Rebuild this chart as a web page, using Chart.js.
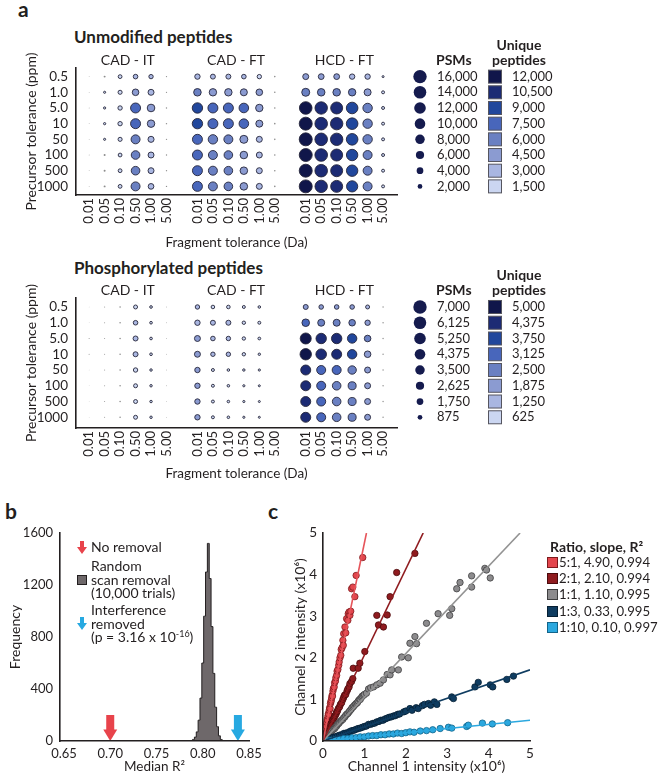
<!DOCTYPE html>
<html>
<head>
<meta charset="utf-8">
<title>Search tolerance and interference removal</title>
<script src="https://cdn.jsdelivr.net/npm/chart.js"></script>
<style>
  body { margin: 0; width: 662px; height: 782px; position: relative; overflow: hidden; background: #fff; font-family: Lato, sans-serif; color: #231f20; }
  .t { position: absolute; white-space: nowrap; line-height: 1; }
  .panel { font-weight: bold; font-size: 21px; }
  .head { font-weight: bold; font-size: 17px; }
  .leg { position: absolute; font-size: 14px; line-height: 13.5px; white-space: nowrap; }
  canvas, svg { position: absolute; }
</style>
</head>
<body>
<div class="t panel" style="left:18px;top:-2px">a</div>
<div class="t head" style="left:74px;top:28px">Unmodified peptides</div>
<div class="t head" style="left:74px;top:259px">Phosphorylated peptides</div>
<div class="t panel" style="left:5px;top:500px">b</div>
<div class="t panel" style="left:268px;top:500px">c</div>

<canvas id="unmod" width="662" height="235" style="left:0;top:20px"></canvas>
<canvas id="phos" width="662" height="236" style="left:0;top:250px"></canvas>
<canvas id="hist" width="290" height="279" style="left:0;top:500px"></canvas>
<canvas id="ratio" width="382" height="279" style="left:280px;top:500px"></canvas>

<!-- legend of panel b -->
<svg style="left:77px;top:541px" width="10" height="13"><path d="M3 0h4v6h3l-5 7l-5-7h3z" fill="#e8434b"/></svg>
<div class="leg" style="left:91px;top:539.5px">No removal</div>
<svg style="left:77px;top:575px" width="10" height="10"><rect x="0.5" y="0.5" width="9" height="9" fill="#6e686a" stroke="#231f20"/></svg>
<div class="leg" style="left:91px;top:559px">Random<br>scan removal<br>(10,000 trials)</div>
<svg style="left:77px;top:617px" width="10" height="13"><path d="M3 0h4v6h3l-5 7l-5-7h3z" fill="#27a9e1"/></svg>
<div class="leg" style="left:91px;top:603px">Interference<br>removed<br>(p = 3.16 x 10<span style="font-size:9px;vertical-align:5px;line-height:0">-16</span>)</div>

<!-- legend of panel c -->
<div class="t" style="left:550px;top:540px;font-weight:bold;font-size:14px">Ratio, slope, R²</div>
<div id="ratioLegend"></div>

<script>
// ---------- panel a data ----------
const precursorLabels = ['0.5', '1.0', '5.0', '10', '50', '100', '500', '1000'];
const fragmentLabels = ['0.01', '0.05', '0.10', '0.50', '1.00', '5.00'];
const groupNames = ['CAD - IT', 'CAD - FT', 'HCD - FT'];

const unmodPsmLevels = [16000, 14000, 12000, 10000, 8000, 6000, 4000, 2000];
const unmodPepLevels = [12000, 10500, 9000, 7500, 6000, 4500, 3000, 1500];
const phosPsmLevels = [7000, 6125, 5250, 4375, 3500, 2625, 1750, 875];
const phosPepLevels = [5000, 4375, 3750, 3125, 2500, 1875, 1250, 625];
const pepPalette = ['#10164a', '#1c2b74', '#21479c', '#4866bb', '#6a80c2', '#8b9bd1', '#a9b6e1', '#cbd6f1'];

// rows: precursor tolerance, columns: fragment tolerance
const unmodCadItPsm = [
  [60, 350, 1300, 1900, 1700, 150],
  [60, 400, 1500, 3900, 3200, 150],
  [60, 450, 1700, 8900, 5200, 180],
  [60, 450, 1700, 8900, 5000, 180],
  [60, 400, 1500, 7200, 3300, 160],
  [60, 350, 1300, 6600, 3200, 160],
  [60, 350, 1300, 6600, 3200, 160],
  [60, 350, 1300, 7200, 2900, 160]];
const unmodCadItPep = [
  [50, 300, 1100, 1700, 1600, 120],
  [50, 350, 1300, 3500, 2800, 120],
  [50, 380, 1400, 7000, 4200, 150],
  [50, 380, 1400, 7200, 4000, 150],
  [50, 350, 1300, 5800, 2900, 130],
  [50, 300, 1100, 5600, 2800, 130],
  [50, 300, 1100, 5600, 2800, 130],
  [50, 300, 1100, 5900, 2600, 130]];
const unmodCadFtPsm = [
  [2600, 2200, 2200, 1900, 1700, 230],
  [5100, 4900, 4900, 4400, 3900, 230],
  [9600, 8900, 8900, 8200, 4900, 230],
  [9600, 8900, 8900, 8200, 4400, 230],
  [8900, 7900, 7200, 5700, 3200, 230],
  [8900, 7200, 6600, 5100, 3200, 230],
  [8900, 7200, 6600, 5100, 3200, 230],
  [8900, 7200, 6600, 5100, 3200, 230]];
const unmodCadFtPep = [
  [2200, 1900, 1900, 1600, 1400, 200],
  [4600, 4000, 4000, 3600, 3200, 200],
  [8200, 7200, 7000, 6400, 4100, 200],
  [8200, 7100, 7000, 6400, 3800, 200],
  [7400, 5800, 5400, 4400, 2700, 200],
  [7400, 5800, 5400, 4200, 2700, 200],
  [7400, 5800, 5400, 4200, 2700, 200],
  [7400, 5800, 5400, 4200, 2700, 200]];
const unmodHcdFtPsm = [
  [3200, 3000, 3000, 2600, 2600, 360],
  [5700, 5100, 5100, 4900, 4400, 800],
  [14100, 13700, 12800, 12000, 7900, 800],
  [15000, 14100, 13700, 12000, 7900, 800],
  [15000, 14100, 13700, 12000, 7900, 800],
  [15000, 14100, 12800, 11600, 7200, 800],
  [15000, 14100, 12800, 11600, 7200, 800],
  [15000, 13700, 12800, 11200, 7200, 800]];
const unmodHcdFtPep = [
  [3100, 3050, 3050, 3000, 2900, 300],
  [5000, 4700, 4600, 4550, 4000, 600],
  [11200, 10200, 10000, 8800, 5900, 600],
  [11800, 10300, 10100, 8800, 5800, 600],
  [11700, 10200, 10000, 8700, 5800, 600],
  [11600, 10100, 9800, 8600, 5700, 600],
  [11800, 10200, 9800, 8600, 5700, 600],
  [11400, 10100, 9700, 8500, 5600, 600]];

const phosCadItPsm = [
  [10, 40, 100, 620, 280, 25],
  [10, 40, 100, 830, 280, 25],
  [40, 40, 100, 975, 280, 25],
  [40, 40, 100, 975, 280, 25],
  [10, 40, 100, 750, 240, 25],
  [10, 40, 100, 620, 240, 25],
  [10, 40, 100, 620, 240, 25],
  [10, 40, 100, 620, 240, 25]];
const phosCadItPep = [
  [8, 30, 80, 560, 200, 20],
  [8, 30, 80, 700, 200, 20],
  [30, 30, 80, 800, 200, 20],
  [30, 30, 80, 780, 200, 20],
  [8, 30, 80, 600, 180, 20],
  [8, 30, 80, 540, 180, 20],
  [8, 30, 80, 540, 180, 20],
  [8, 30, 80, 540, 180, 20]];
const phosCadFtPsm = [
  [760, 500, 500, 350, 260, 0],
  [1140, 975, 975, 450, 350, 0],
  [1400, 825, 760, 450, 300, 0],
  [1400, 760, 760, 450, 230, 0],
  [1140, 350, 260, 230, 190, 0],
  [1140, 350, 260, 190, 160, 0],
  [1140, 350, 260, 190, 160, 0],
  [1140, 350, 260, 190, 160, 0]];
const phosCadFtPep = [
  [700, 450, 450, 300, 230, 0],
  [1100, 880, 880, 400, 300, 0],
  [1300, 740, 680, 400, 270, 0],
  [1300, 680, 680, 400, 200, 0],
  [1300, 300, 230, 200, 170, 0],
  [1300, 300, 230, 170, 140, 0],
  [1300, 300, 230, 170, 140, 0],
  [1300, 300, 230, 170, 140, 0]];
const phosHcdFtPsm = [
  [975, 825, 825, 825, 625, 76],
  [2250, 1910, 1910, 1700, 1140, 76],
  [4720, 4220, 4220, 3450, 1700, 76],
  [5070, 4380, 3900, 3450, 1700, 76],
  [3900, 3160, 3160, 2750, 1400, 76],
  [3900, 3160, 2880, 2500, 1400, 76],
  [3900, 3160, 2880, 2500, 1400, 76],
  [3900, 3160, 2880, 2500, 1400, 76]];
const phosHcdFtPep = [
  [1400, 1350, 1300, 1300, 900, 60],
  [2900, 2400, 2400, 2300, 1500, 60],
  [4600, 4200, 4000, 3400, 2200, 60],
  [4800, 4300, 3800, 3200, 1800, 60],
  [4200, 3000, 2800, 2400, 1700, 60],
  [4100, 3000, 2500, 2300, 1600, 60],
  [4000, 3000, 2450, 2300, 1600, 60],
  [4000, 2900, 2450, 2300, 1600, 60]];

// ---------- panel b data ----------
const histBins = [0.786, 0.788, 0.790, 0.792, 0.794, 0.796, 0.798, 0.800, 0.802, 0.804,
                  0.806, 0.808, 0.810, 0.812, 0.814, 0.816, 0.818, 0.820, 0.822, 0.824];
const histCounts = [0, 4, 12, 30, 70, 160, 330, 600, 960, 1300,
                    1520, 1250, 880, 520, 260, 110, 40, 12, 3, 0];
const rTicks = [0.65, 0.70, 0.75, 0.80, 0.85];
const arrowValues = [0.70, 0.838];
const arrowColors = ['#e8434b', '#27a9e1'];

// ---------- panel c data ----------
const ratioLabels = ['5:1, 4.90, 0.994', '2:1, 2.10, 0.994', '1:1, 1.10, 0.995', '1:3, 0.33, 0.995', '1:10, 0.10, 0.997'];
const ratio5to1 = [[0.02,0.06],[0.03,0.16],[0.04,0.22],[0.05,0.21],[0.06,0.3],[0.07,0.38],[0.08,0.36],[0.09,0.45],[0.1,0.52],[0.11,0.5],[0.12,0.6],[0.13,0.66],[0.14,0.64],[0.15,0.74],[0.16,0.8],[0.17,0.78],[0.18,0.9],[0.19,0.94],[0.2,0.98],[0.21,1.04],[0.22,1.1],[0.23,1.08],[0.24,1.2],[0.25,1.26],[0.27,1.3],[0.28,1.4],[0.3,1.44],[0.31,1.52],[0.33,1.58],[0.34,1.68],[0.36,1.72],[0.38,1.82],[0.39,1.9],[0.41,2.0],[0.43,2.06],[0.44,2.2],[0.46,2.24],[0.48,2.42],[0.49,2.3],[0.5,2.58],[0.53,2.74],[0.55,2.6],[0.57,2.94],[0.6,2.9],[0.61,3.06],[0.63,3.1],[0.65,3.02],[0.67,3.12],[0.69,3.66],[0.72,3.7],[0.77,3.47],[0.8,3.98],[0.96,4.41]];
const ratio2to1 = [[0.03,0.05],[0.05,0.12],[0.07,0.15],[0.08,0.2],[0.1,0.22],[0.12,0.25],[0.13,0.3],[0.15,0.33],[0.17,0.35],[0.18,0.4],[0.2,0.42],[0.22,0.46],[0.23,0.5],[0.25,0.52],[0.27,0.56],[0.28,0.6],[0.3,0.62],[0.32,0.66],[0.33,0.7],[0.35,0.72],[0.37,0.78],[0.4,0.82],[0.42,0.88],[0.45,0.92],[0.48,1.0],[0.5,1.05],[0.52,1.1],[0.55,1.12],[0.58,1.2],[0.6,1.25],[0.63,1.3],[0.65,1.38],[0.69,1.43],[0.72,1.5],[0.73,1.75],[0.85,1.75],[0.89,1.87],[1.01,2.15],[1.3,3.02],[1.34,2.79],[1.46,2.74],[1.55,3.03],[1.62,3.47],[1.78,4.05],[2.22,4.51]];
const ratio1to1 = [[0.05,0.05],[0.08,0.1],[0.1,0.12],[0.12,0.15],[0.15,0.16],[0.17,0.2],[0.2,0.22],[0.22,0.25],[0.25,0.28],[0.28,0.3],[0.3,0.33],[0.33,0.36],[0.35,0.4],[0.38,0.42],[0.4,0.45],[0.43,0.48],[0.45,0.5],[0.48,0.52],[0.5,0.56],[0.53,0.58],[0.55,0.62],[0.58,0.65],[0.6,0.66],[0.63,0.7],[0.65,0.73],[0.68,0.76],[0.7,0.8],[0.73,0.82],[0.75,0.85],[0.78,0.88],[0.8,0.9],[0.83,0.92],[0.85,0.96],[0.88,1.0],[0.9,1.0],[0.93,1.05],[0.95,1.08],[0.98,1.1],[1.0,1.12],[1.05,1.15],[1.1,1.25],[1.15,1.28],[1.22,1.3],[1.3,1.35],[1.38,1.39],[1.46,1.47],[1.55,1.6],[1.62,1.59],[1.66,1.71],[1.82,1.71],[1.9,2.02],[2.06,2.0],[2.1,2.35],[2.22,2.51],[2.26,2.34],[2.5,2.83],[2.78,3.06],[3.06,3.02],[3.11,3.18],[3.23,3.66],[3.31,3.81],[3.59,3.7],[3.59,3.97],[3.91,4.15],[3.95,4.11],[4.04,3.92]];
const ratio1to3 = [[0.05,0.02],[0.1,0.04],[0.15,0.06],[0.2,0.07],[0.25,0.09],[0.3,0.1],[0.35,0.12],[0.4,0.14],[0.45,0.15],[0.5,0.18],[0.55,0.19],[0.6,0.2],[0.65,0.23],[0.7,0.25],[0.75,0.26],[0.8,0.28],[0.85,0.3],[0.9,0.31],[0.95,0.33],[1.0,0.35],[1.05,0.36],[1.1,0.4],[1.15,0.4],[1.2,0.42],[1.25,0.43],[1.3,0.46],[1.35,0.47],[1.4,0.5],[1.45,0.5],[1.5,0.53],[1.55,0.55],[1.6,0.57],[1.65,0.58],[1.7,0.6],[1.75,0.61],[1.8,0.64],[1.85,0.65],[1.95,0.7],[2.0,0.72],[2.1,0.78],[2.15,0.74],[2.25,0.8],[2.3,0.78],[2.4,0.85],[2.45,0.88],[2.55,0.9],[2.6,0.86],[2.69,0.94],[2.75,0.88],[3.11,1.06],[3.15,1.02],[3.67,1.3],[3.75,1.41],[4.04,1.35],[4.1,1.3],[4.44,1.48],[4.6,1.56]];
const ratio1to10 = [[0.05,0.01],[0.1,0.02],[0.15,0.01],[0.2,0.02],[0.3,0.04],[0.4,0.04],[0.5,0.06],[0.6,0.06],[0.7,0.08],[0.8,0.08],[0.9,0.1],[1.0,0.1],[1.1,0.12],[1.2,0.13],[1.3,0.13],[1.4,0.15],[1.5,0.15],[1.6,0.17],[1.7,0.17],[1.8,0.19],[1.9,0.18],[2.0,0.2],[2.1,0.22],[2.2,0.21],[2.35,0.24],[2.5,0.25],[2.65,0.27],[2.83,0.3],[3.03,0.33],[3.11,0.31],[3.47,0.35],[3.51,0.38],[3.85,0.43],[4.09,0.41],[4.46,0.44]];
const fitEnds = [[1.05, 5], [2.42, 5], [4.76, 5], [5, 1.71], [5, 0.5]];
const ratioFill = ['#e3464d', '#8f1b1f', '#8c8b8d', '#0f3c60', '#2ba8df'];
const ratioEdge = ['#7d1a1d', '#4b0b0d', '#3f3f40', '#061f33', '#12648a'];
const ratioLine = ['#e6545a', '#8f1b1f', '#939393', '#0f3c60', '#2ba8df'];

// ---------- helpers ----------
const INK = '#231f20';
Chart.defaults.font.family = 'Lato, sans-serif';
Chart.defaults.color = INK;

const maxR = 6.7;
function radiusFor(v, top) { return maxR * Math.sqrt(v / top); }
function pepColor(v, levels) {
  for (let i = levels.length - 1; i >= 0; i--) {
    if (v <= levels[i]) return pepPalette[i];
  }
  return pepPalette[0];
}
const colPositions = [0, 1, 2].flatMap(g => fragmentLabels.map((_, c) => g * 7 + c));

function buildBubbles(psmSets, pepSets, psmTop) {
  const pts = [];
  psmSets.forEach((psm, g) => {
    psm.forEach((row, ri) => row.forEach((v, ci) => {
      pts.push({ x: g * 7 + ci, y: ri, r: radiusFor(v, psmTop), pep: pepSets[g][ri][ci] });
    }));
  });
  return pts;
}

const bubbleDecor = {
  id: 'bubbleDecor',
  afterDraw(chart, args, opts) {
    const { ctx, chartArea, scales: { x, y } } = chart;
    ctx.save();
    ctx.fillStyle = INK;
    ctx.textBaseline = 'middle';
    ctx.textAlign = 'center';
    ctx.font = '14px Lato';
    groupNames.forEach((g, i) => ctx.fillText(g, x.getPixelForValue(i * 7 + 2.5), chartArea.top - 8));
    ctx.font = 'bold 14px Lato';
    ctx.fillText('Unique', 519, chartArea.top - 22.5);
    ctx.fillText('peptides', 519, chartArea.top - 8);
    ctx.textAlign = 'left';
    ctx.fillText('PSMs', 436, chartArea.top - 8);
    ctx.font = '13px Lato';
    opts.psmLevels.forEach((v, i) => {
      const py = y.getPixelForValue(i);
      ctx.beginPath();
      ctx.arc(420, py, radiusFor(v, opts.psmLevels[0]), 0, Math.PI * 2);
      ctx.fillStyle = '#151b4e';
      ctx.fill();
      ctx.fillStyle = pepPalette[i];
      ctx.fillRect(488.5, py - 6.5, 13, 13);
      ctx.strokeStyle = '#55555f';
      ctx.lineWidth = 1;
      ctx.strokeRect(488.5, py - 6.5, 13, 13);
      ctx.fillStyle = INK;
      ctx.fillText(v.toLocaleString('en-US'), 437, py);
      ctx.fillText(opts.pepLevels[i].toLocaleString('en-US'), 512, py);
    });
    ctx.restore();
  }
};

function bubblePanel(id, points, cfg) {
  return new Chart(document.getElementById(id), {
    type: 'bubble',
    data: { datasets: [{
      data: points,
      backgroundColor: c => c.raw.r < 1 ? '#8d8d8d' : pepColor(c.raw.pep, cfg.pepLevels),
      borderColor: '#26263a',
      borderWidth: c => c.raw.r < 1 ? 0 : 0.9
    }] },
    options: {
      responsive: false, animation: false, events: [],
      layout: { padding: { left: 19, top: 48, right: 265, bottom: 0 } },
      plugins: { legend: { display: false }, tooltip: { enabled: false }, bubbleDecor: cfg },
      scales: {
        x: {
          type: 'linear', min: -0.85, max: 19.9,
          afterBuildTicks: s => { s.ticks = colPositions.map(v => ({ value: v })); },
          afterFit: s => { s.height = cfg.xAxisHeight; },
          grid: { display: false, drawTicks: false },
          border: { display: true, color: INK, width: 1.6, z: 1 },
          ticks: { autoSkip: false, minRotation: 90, maxRotation: 90, padding: 3, font: { size: 13 }, color: INK,
                   callback: v => fragmentLabels[v % 7] },
          title: { display: true, text: 'Fragment tolerance (Da)', font: { size: 13.5 }, color: INK }
        },
        y: {
          type: 'linear', reverse: true, min: cfg.yMin, max: cfg.yMax,
          afterBuildTicks: s => { s.ticks = precursorLabels.map((_, i) => ({ value: i })); },
          afterFit: s => { s.width = 57; },
          grid: { display: false, drawTicks: false },
          border: { display: true, color: INK, width: 1.6, z: 1 },
          ticks: { autoSkip: false, padding: 8, font: { size: 13.5 }, color: INK, callback: v => precursorLabels[v] },
          title: { display: true, text: 'Precursor tolerance (ppm)', font: { size: 14 }, color: INK }
        }
      }
    },
    plugins: [bubbleDecor]
  });
}

bubblePanel('unmod',
  buildBubbles([unmodCadItPsm, unmodCadFtPsm, unmodHcdFtPsm], [unmodCadItPep, unmodCadFtPep, unmodHcdFtPep], unmodPsmLevels[0]),
  { psmLevels: unmodPsmLevels, pepLevels: unmodPepLevels, yMin: -0.55, yMax: 7.55, xAxisHeight: 60 });
bubblePanel('phos',
  buildBubbles([phosCadItPsm, phosCadFtPsm, phosHcdFtPsm], [phosCadItPep, phosCadFtPep, phosHcdFtPep], phosPsmLevels[0]),
  { psmLevels: phosPsmLevels, pepLevels: phosPepLevels, yMin: -0.57, yMax: 7.68, xAxisHeight: 58 });

// ---------- panel b ----------
const arrowMarks = {
  id: 'arrowMarks',
  afterDatasetsDraw(chart) {
    const { ctx, scales: { x, y } } = chart;
    const base = y.getPixelForValue(0);
    ctx.save();
    arrowValues.forEach((v, i) => {
      const px = x.getPixelForValue(v);
      ctx.fillStyle = arrowColors[i];
      ctx.fillRect(px - 4, base - 26, 8, 15);
      ctx.beginPath();
      ctx.moveTo(px - 7, base - 11.5);
      ctx.lineTo(px + 7, base - 11.5);
      ctx.lineTo(px, base);
      ctx.closePath();
      ctx.fill();
    });
    ctx.restore();
  }
};

new Chart(document.getElementById('hist'), {
  type: 'line',
  data: { datasets: [{
    data: histBins.map((x, i) => ({ x, y: histCounts[i] })),
    stepped: 'middle', fill: 'origin',
    backgroundColor: '#6e686a', borderColor: INK, borderWidth: 1, pointRadius: 0
  }] },
  options: {
    responsive: false, animation: false, events: [],
    layout: { padding: { left: 3, right: 41, top: 33, bottom: 0 } },
    plugins: { legend: { display: false }, tooltip: { enabled: false } },
    scales: {
      x: {
        type: 'linear', min: 0.6457, max: 0.85,
        afterBuildTicks: s => { s.ticks = rTicks.map(v => ({ value: v })); },
        afterFit: s => { s.height = 38; },
        grid: { display: false, drawTicks: false },
        border: { display: true, color: INK, width: 1.6, z: 1 },
        ticks: { padding: 5, font: { size: 13 }, color: INK, callback: v => v.toFixed(2) },
        title: { display: true, text: 'Median R²', font: { size: 13.5 }, color: INK }
      },
      y: {
        min: 0, max: 1600,
        afterFit: s => { s.width = 57; },
        grid: { display: false, drawTicks: false },
        border: { display: true, color: INK, width: 1.6, z: 1 },
        ticks: { stepSize: 400, padding: 7, font: { size: 13 }, color: INK, callback: v => String(v) },
        title: { display: true, text: 'Frequency', font: { size: 14 }, color: INK }
      }
    }
  },
  plugins: [arrowMarks]
});

// ---------- panel c ----------
const ratioPoints = [ratio5to1, ratio2to1, ratio1to1, ratio1to3, ratio1to10];
const fitSets = fitEnds.map((end, i) => ({
  data: [{ x: 0, y: 0 }, { x: end[0], y: end[1] }],
  showLine: true, pointRadius: 0, borderColor: ratioLine[i], borderWidth: 1.6
}));
const pointSets = ratioPoints.map((pts, i) => ({
  data: pts.map(p => ({ x: p[0], y: p[1] })),
  pointRadius: 3.2, borderWidth: 0.8,
  backgroundColor: ratioFill[i], borderColor: ratioEdge[i]
})).reverse();

new Chart(document.getElementById('ratio'), {
  type: 'scatter',
  data: { datasets: fitSets.concat(pointSets) },
  options: {
    responsive: false, animation: false, events: [],
    layout: { padding: { left: 8, right: 132, top: 33, bottom: 0 } },
    plugins: { legend: { display: false }, tooltip: { enabled: false } },
    scales: {
      x: {
        type: 'linear', min: 0, max: 5,
        afterFit: s => { s.height = 38; },
        grid: { display: false, drawTicks: false },
        border: { display: true, color: INK, width: 1.6, z: 1 },
        ticks: { stepSize: 1, padding: 5, font: { size: 13.5 }, color: INK },
        title: { display: true, text: 'Channel 1 intensity (x10⁶)', font: { size: 14 }, color: INK }
      },
      y: {
        min: 0, max: 5,
        afterFit: s => { s.width = 35; },
        grid: { display: false, drawTicks: false },
        border: { display: true, color: INK, width: 1.6, z: 1 },
        ticks: { stepSize: 1, padding: 6, font: { size: 13.5 }, color: INK },
        title: { display: true, text: 'Channel 2 intensity (x10⁶)', font: { size: 14 }, color: INK }
      }
    }
  }
});

// legend of panel c
const legendBox = document.getElementById('ratioLegend');
ratioLabels.forEach((label, i) => {
  const cy = 562 + i * 16.2;
  const sq = document.createElement('div');
  sq.style.cssText = `position:absolute;left:547px;top:${cy - 5}px;width:9px;height:9px;background:${ratioFill[i]};border:0.8px solid ${ratioEdge[i]}`;
  const tx = document.createElement('div');
  tx.className = 't';
  tx.style.cssText = `left:559px;top:${cy - 8}px;font-size:13.2px;line-height:16px`;
  tx.textContent = label;
  legendBox.appendChild(sq);
  legendBox.appendChild(tx);
});
</script>
</body>
</html>
